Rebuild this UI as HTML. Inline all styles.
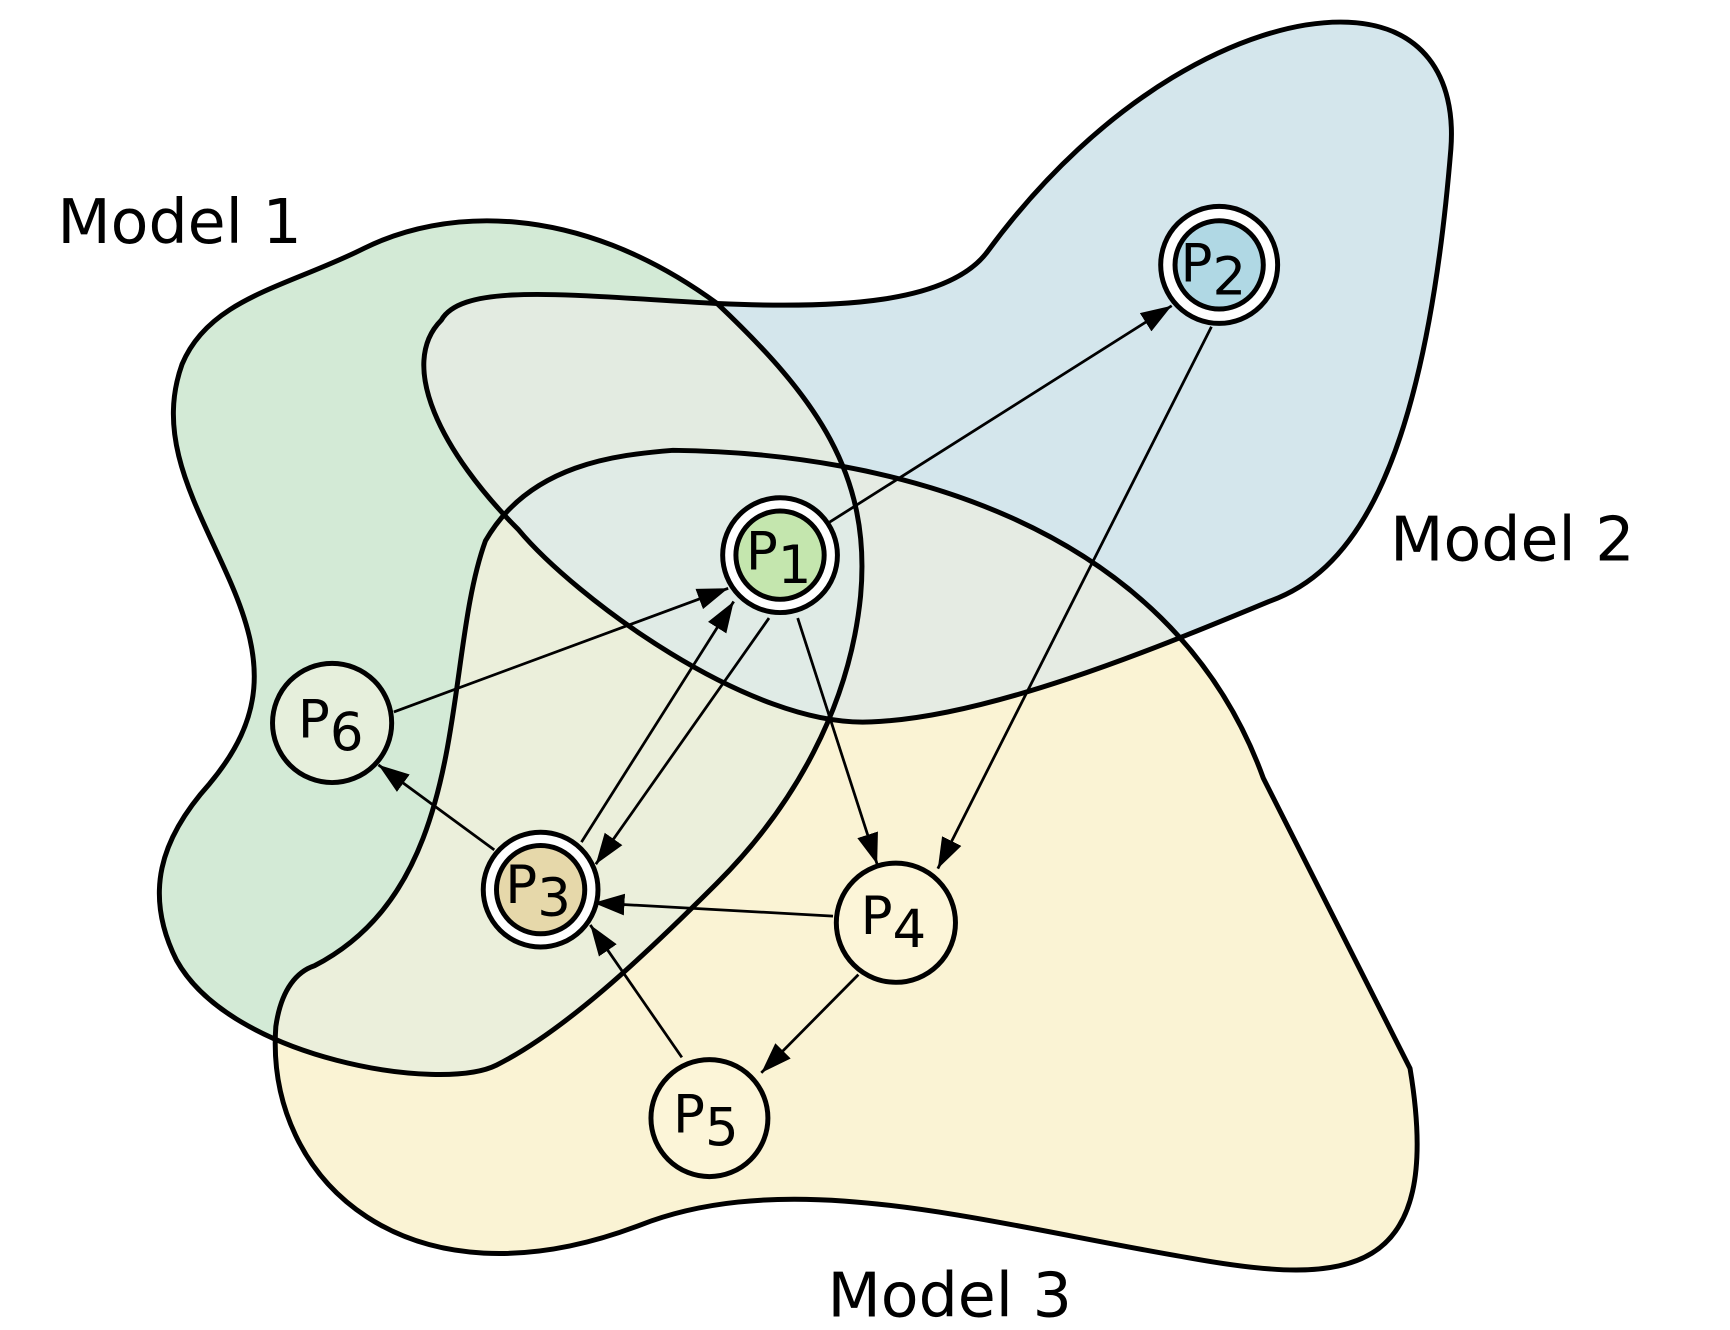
<!DOCTYPE html>
<html><head><meta charset="utf-8"><style>html,body{margin:0;padding:0;background:#fff}svg{display:block}</style></head>
<body>
<svg width="1730" height="1330" viewBox="0 0 1568 1205" preserveAspectRatio="none" xmlns="http://www.w3.org/2000/svg" font-family="'DejaVu Sans','Liberation Sans',sans-serif">
<defs>
<marker id="b" viewBox="0 0 10 10" refX="10" refY="5" markerWidth="28" markerHeight="28" markerUnits="userSpaceOnUse" orient="auto"><path d="M0,1.5 L10,5 L0,8.5 z" fill="#000"/></marker>
<path id="m1" d="M330,225 C400,190 520,180 650,275 C740,360 790,430 780,540 C770,640 720,730 650,800 C580,870 510,935 450,965 C400,990 210,960 160,870 C130,810 145,760 190,710 C240,650 240,600 210,530 C180,460 140,400 165,330 C190,270 260,260 330,225 Z"/>
<path id="m2" d="M400,290 C420,255 520,268 650,275 C760,280 860,275 895,228 C1000,85 1130,20 1215,20 C1290,20 1320,70 1315,135 C1290,440 1220,520 1150,545 C1060,582 900,650 790,654 C680,660 520,540 470,480 C400,410 360,330 400,290 Z"/>
<path id="m3" d="M610,408 C800,410 1060,470 1145,705 L1278,968 C1310,1160 1220,1165 1080,1140 C900,1110 720,1055 580,1110 C370,1190 240,1070 250,930 C255,895 270,880 285,875 C430,800 400,600 440,490 C480,420 560,412 610,408 Z"/>
<clipPath id="c1"><use href="#m1"/></clipPath>
<clipPath id="c2"><use href="#m2"/></clipPath>
<clipPath id="c3"><use href="#m3"/></clipPath>
</defs>
<rect width="1568" height="1205" fill="#fff"/>
<use href="#m1" fill="#d3ead6"/>
<use href="#m2" fill="#d4e6ec"/>
<use href="#m3" fill="#faf3d4"/>
<g clip-path="url(#c1)"><use href="#m2" fill="#e3ebe1"/><use href="#m3" fill="#ebefdb"/></g>
<g clip-path="url(#c2)"><use href="#m3" fill="#e5ebe3"/></g>
<g clip-path="url(#c1)"><g clip-path="url(#c2)"><use href="#m3" fill="#e0ebe6"/></g></g>
<g stroke="#000" stroke-width="4.5" fill="none">
<use href="#m1"/><use href="#m2"/><use href="#m3"/>
</g>
<g stroke="#000" stroke-width="2.5" fill="none">
<line x1="752" y1="473" x2="1062" y2="277" marker-end="url(#b)"/>
<line x1="1098" y1="296" x2="850" y2="787" marker-end="url(#b)"/>
<line x1="723" y1="560" x2="795" y2="783" marker-end="url(#b)"/>
<line x1="527" y1="763" x2="665" y2="545" marker-end="url(#b)"/>
<line x1="697" y1="560" x2="540" y2="783" marker-end="url(#b)"/>
<line x1="357" y1="645" x2="660" y2="533" marker-end="url(#b)"/>
<line x1="448" y1="770" x2="343" y2="693" marker-end="url(#b)"/>
<line x1="755" y1="830" x2="538" y2="818" marker-end="url(#b)"/>
<line x1="778" y1="883" x2="690" y2="972" marker-end="url(#b)"/>
<line x1="618" y1="958" x2="535" y2="838" marker-end="url(#b)"/>
</g>
<g stroke="#000" stroke-width="4.5">
<circle cx="707" cy="503" r="52" fill="#fff"/><circle cx="707" cy="503" r="40" fill="#c4e6ae"/>
<circle cx="1105" cy="240" r="53" fill="#fff"/><circle cx="1105" cy="240" r="40" fill="#b0d8e4"/>
<circle cx="490" cy="806" r="52" fill="#fff"/><circle cx="490" cy="806" r="40" fill="#e6d8aa"/>
<circle cx="812" cy="836" r="54" fill="#fcf5d8"/>
<circle cx="643" cy="1013" r="53" fill="#fcf5d8"/>
<circle cx="301" cy="655" r="54" fill="#e6efdc"/>
</g>
<g font-size="48" fill="#000">
<text x="676" y="516">P<tspan dy="12">1</tspan></text>
<text x="1070" y="255">P<tspan dy="12">2</tspan></text>
<text x="458" y="818">P<tspan dy="12">3</tspan></text>
<text x="780" y="846">P<tspan dy="12">4</tspan></text>
<text x="610" y="1026">P<tspan dy="12">5</tspan></text>
<text x="270" y="668">P<tspan dy="12">6</tspan></text>
</g>
<g font-size="56" fill="#000">
<text x="52" y="220">Model 1</text>
<text x="1260" y="508">Model 2</text>
<text x="750" y="1193">Model 3</text>
</g>
</svg>
</body></html>
